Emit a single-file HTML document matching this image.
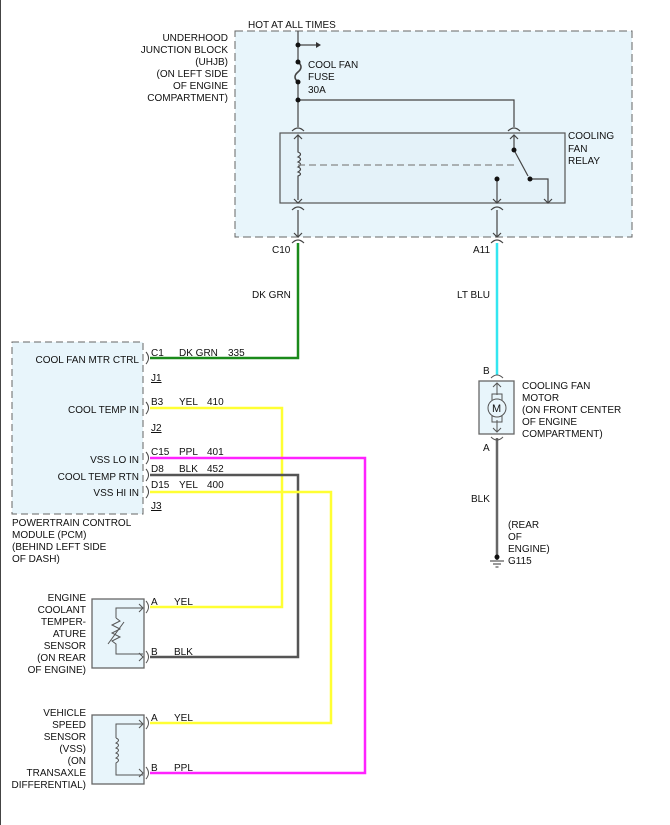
<!DOCTYPE html>
<html><head><meta charset="utf-8"><style>
body{margin:0;background:#fff}
svg{display:block}
text{font-family:"Liberation Sans",sans-serif;font-size:10px;fill:#111}
</style></head><body>
<svg width="670" height="825" viewBox="0 0 670 825">
<line x1="0.5" y1="0" x2="0.5" y2="825" stroke="#444" stroke-width="1"/>
<!-- UHJB -->
<rect x="235" y="31" width="397" height="206" fill="#e8f5fb" stroke="#666" stroke-dasharray="8,4"/>
<text x="248" y="28">HOT AT ALL TIMES</text>
<g text-anchor="end"><text x="228" y="41">UNDERHOOD</text><text x="228" y="53">JUNCTION BLOCK</text><text x="228" y="65">(UHJB)</text><text x="228" y="77">(ON LEFT SIDE</text><text x="228" y="89">OF ENGINE</text><text x="228" y="101">COMPARTMENT)</text></g>
<g stroke="#444" fill="none" stroke-width="1.2">
<line x1="298" y1="31" x2="298" y2="62"/>
<line x1="298" y1="45" x2="316" y2="45"/>
<path d="M298 62 q6 5 0 10 q-6 5 0 10" stroke-width="1.6"/>
<line x1="298" y1="82" x2="298" y2="127"/>
<polyline points="298,100 514,100 514,127"/>
<path d="M292 131 q6 -6 12 0 M508 131 q6 -6 12 0"/>
<rect x="280" y="133" width="285" height="70" fill="#e4f2f9" stroke="#555"/>
<path d="M298 135 v17 q5 2 0 5 q5 2 0 5 q5 2 0 5 q5 2 0 5 q5 2 0 4 v24"/>
<path d="M294 139 l4 -4 4 4 M510 139 l4 -4 4 4"/>
<path d="M294 199 l4 4 4 -4 M493 199 l4 4 4 -4 M544 199 l4 4 4 -4"/>
<line x1="298" y1="165" x2="515" y2="165" stroke-dasharray="7,4" stroke="#888"/>
<line x1="514" y1="135" x2="514" y2="150"/>
<line x1="514" y1="150" x2="528" y2="176"/>
<polyline points="530,179 548,179 548,203"/>
<line x1="497" y1="179" x2="497" y2="203"/>
<path d="M292 210 q6 -6 12 0 M491 210 q6 -6 12 0"/>
<line x1="298" y1="210" x2="298" y2="237"/><line x1="497" y1="210" x2="497" y2="237"/>
<path d="M294 233 l4 4 4 -4 M493 233 l4 4 4 -4"/>
<path d="M292 243 q6 -6 12 0 M491 243 q6 -6 12 0"/>
</g>
<path d="M316 42 l5 3 -5 3z" fill="#333"/>
<g fill="#111"><circle cx="298" cy="45" r="2.5"/><circle cx="298" cy="62" r="2.5"/><circle cx="298" cy="82" r="2.5"/><circle cx="298" cy="100" r="2.5"/><circle cx="514" cy="150" r="2.5"/><circle cx="530" cy="179" r="2.5"/><circle cx="497" cy="179" r="2.5"/></g>
<text x="308" y="68">COOL FAN</text><text x="308" y="80">FUSE</text><text x="308" y="93">30A</text>
<text x="568" y="139">COOLING</text><text x="568" y="152">FAN</text><text x="568" y="164">RELAY</text>
<text x="272" y="253">C10</text><text x="473" y="253">A11</text>
<text x="252" y="298">DK GRN</text><text x="457" y="298">LT BLU</text>
<!-- wires -->
<g fill="none" stroke-width="2.5">
<polyline points="298,243 298,358 150,358" stroke="#1a8a1a"/>
<line x1="497" y1="243" x2="497" y2="375" stroke="#33e6f0"/>
<polyline points="150,408 282,408 282,607 150,607" stroke="#ffff33"/>
<polyline points="150,458 365,458 365,773 150,773" stroke="#ff22ff"/>
<polyline points="150,475 298,475 298,657 150,657" stroke="#555"/>
<polyline points="150,492 331,492 331,723 150,723" stroke="#ffff33"/>
<line x1="497" y1="438" x2="497" y2="560" stroke="#666"/>
</g>
<!-- PCM -->
<rect x="12" y="342" width="131" height="172" fill="#e8f5fb" stroke="#666" stroke-dasharray="7,4"/>
<g text-anchor="end"><text x="139" y="363">COOL FAN MTR CTRL</text><text x="139" y="413">COOL TEMP IN</text><text x="139" y="463">VSS LO IN</text><text x="139" y="480">COOL TEMP RTN</text><text x="139" y="496">VSS HI IN</text></g>
<g fill="none" stroke="#444"><path d="M146 352 q5 6 0 12 M146 402 q5 6 0 12 M146 452 q5 6 0 12 M146 469 q5 6 0 12 M146 486 q5 6 0 12"/></g>
<text x="151" y="356">C1</text><text x="179" y="356">DK GRN</text><text x="228" y="356">335</text>
<text x="151" y="381" text-decoration="underline">J1</text>
<text x="151" y="405">B3</text><text x="179" y="405">YEL</text><text x="207" y="405">410</text>
<text x="151" y="431" text-decoration="underline">J2</text>
<text x="151" y="455">C15</text><text x="179" y="455">PPL</text><text x="207" y="455">401</text>
<text x="151" y="472">D8</text><text x="179" y="472">BLK</text><text x="207" y="472">452</text>
<text x="151" y="488">D15</text><text x="179" y="488">YEL</text><text x="207" y="488">400</text>
<text x="151" y="509" text-decoration="underline">J3</text>
<text x="12" y="526">POWERTRAIN CONTROL</text><text x="12" y="538">MODULE (PCM)</text><text x="12" y="550">(BEHIND LEFT SIDE</text><text x="12" y="562">OF DASH)</text>
<!-- ECT -->
<rect x="92" y="599" width="52" height="69" fill="#e8f5fb" stroke="#666" stroke-width="1.3"/>
<g fill="none" stroke="#555"><polyline points="143,608 116,608 116,618"/><path d="M116 618 l4 3 -8 4 8 4 -8 4 8 4 -8 4 4 3 v10 h27"/><line x1="108" y1="644" x2="124" y2="622"/><path d="M139 604 l4 4 -4 4 M139 653 l4 4 -4 4 M146 601 q5 6 0 12 M146 651 q5 6 0 12"/></g>
<g text-anchor="end"><text x="86" y="601">ENGINE</text><text x="86" y="613">COOLANT</text><text x="86" y="625">TEMPER-</text><text x="86" y="637">ATURE</text><text x="86" y="649">SENSOR</text><text x="86" y="661">(ON REAR</text><text x="86" y="673">OF ENGINE)</text></g>
<text x="151" y="605">A</text><text x="174" y="605">YEL</text><text x="151" y="655">B</text><text x="174" y="655">BLK</text>
<!-- VSS -->
<rect x="92" y="715" width="52" height="69" fill="#e8f5fb" stroke="#666" stroke-width="1.3"/>
<g fill="none" stroke="#555"><polyline points="143,724 116,724 116,738"/><path d="M116 738 q5 2 0 5 q5 2 0 5 q5 2 0 5 q5 2 0 5 q5 2 0 5 v12 h27"/><path d="M139 720 l4 4 -4 4 M139 769 l4 4 -4 4 M146 717 q5 6 0 12 M146 767 q5 6 0 12"/></g>
<g text-anchor="end"><text x="86" y="716">VEHICLE</text><text x="86" y="728">SPEED</text><text x="86" y="740">SENSOR</text><text x="86" y="752">(VSS)</text><text x="86" y="764">(ON</text><text x="86" y="776">TRANSAXLE</text><text x="86" y="788">DIFFERENTIAL)</text></g>
<text x="151" y="721">A</text><text x="174" y="721">YEL</text><text x="151" y="771">B</text><text x="174" y="771">PPL</text>
<!-- Motor -->
<text x="483" y="374">B</text>
<rect x="479" y="381" width="35" height="53" fill="#e8f5fb" stroke="#666" stroke-width="1.3"/>
<g fill="none" stroke="#555"><path d="M491 378 q6 -6 12 0 M491 437 q6 6 12 0 M493 387 l4 -4 4 4 M493 428 l4 4 4 -4"/><line x1="497" y1="383" x2="497" y2="395"/><line x1="497" y1="420" x2="497" y2="432"/><rect x="492" y="394" width="10" height="28"/><circle cx="497" cy="408" r="9" fill="#e8f5fb"/></g>
<text x="492" y="412" style="font-size:11px">M</text>
<text x="522" y="389">COOLING FAN</text><text x="522" y="401">MOTOR</text><text x="522" y="413">(ON FRONT CENTER</text><text x="522" y="425">OF ENGINE</text><text x="522" y="437">COMPARTMENT)</text>
<text x="483" y="451">A</text>
<text x="471" y="502">BLK</text>
<text x="508" y="528">(REAR</text><text x="508" y="540">OF</text><text x="508" y="552">ENGINE)</text><text x="508" y="564">G115</text>
<circle cx="497" cy="557" r="2.5" fill="#111"/>
<g stroke="#333"><line x1="490" y1="561" x2="504" y2="561"/><line x1="493" y1="564" x2="501" y2="564"/><line x1="495.5" y1="567" x2="498.5" y2="567"/></g>
</svg>
</body></html>
